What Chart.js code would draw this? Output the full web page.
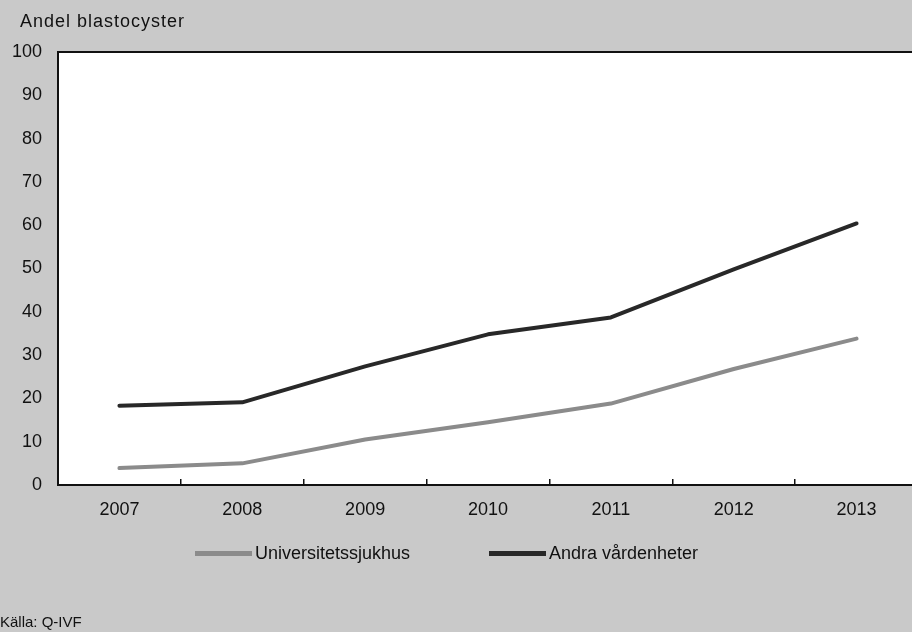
<!DOCTYPE html>
<html lang="sv">
<head>
<meta charset="utf-8">
<title>Andel blastocyster</title>
<script src="https://cdn.jsdelivr.net/npm/chart.js@4/dist/chart.umd.min.js"></script>
<style>
  html, body { margin: 0; padding: 0; background: #c9c9c9; overflow: hidden; }
  body { width: 912px; height: 632px; position: relative; font-family: "Liberation Sans", Arial, sans-serif; color: #111; }
  #wrap { position: absolute; left: 0; top: 0; width: 930px; height: 632px; }
  .txt { position: absolute; font-size: 18px; line-height: 21px; white-space: nowrap; }
  #ytitle { left: 20px; top: 11px; letter-spacing: 1px; }
  #source { left: 0px; top: 613px; font-size: 15px; line-height: 18px; }
  #legend { position: absolute; top: 543px; left: 0; width: 930px; height: 21px; }
  .item { position: absolute; top: 0; display: flex; align-items: center; font-size: 18px; line-height: 21px; white-space: nowrap; }
  .swatch { display: inline-block; width: 57px; height: 5px; margin-right: 3px; }
</style>
</head>
<body>
<div id="wrap"><canvas id="chart" width="930" height="632"></canvas></div>
<div class="txt" id="ytitle">Andel blastocyster</div>
<div id="legend"></div>
<div class="txt" id="source">Källa: Q-IVF</div>
<script>
// Share of blastocyst transfers (%) by year and type of clinic
const years = ['2007', '2008', '2009', '2010', '2011', '2012', '2013'];
const universitetssjukhus = [3.9, 5.0, 10.5, 14.5, 18.8, 26.8, 33.8];
const andraVardenheter = [18.3, 19.1, 27.4, 34.8, 38.7, 49.8, 60.4];
const yTicks = [0, 10, 20, 30, 40, 50, 60, 70, 80, 90, 100];

const seriesNames = ['Universitetssjukhus', 'Andra vårdenheter'];
const seriesColors = ['#8b8b8b', '#282828'];
const legendLeft = [195, 489];

// White plot area with a black frame
const plotFrame = {
  id: 'plotFrame',
  beforeDraw(chart) {
    const { ctx, chartArea: a } = chart;
    ctx.save();
    ctx.fillStyle = '#ffffff';
    ctx.fillRect(a.left, a.top, a.right - a.left, a.bottom - a.top);
    ctx.restore();
  },
  afterDraw(chart) {
    const { ctx, chartArea: a } = chart;
    ctx.save();
    ctx.strokeStyle = '#111111';
    ctx.lineWidth = 2;
    ctx.strokeRect(a.left, a.top, a.right - a.left, a.bottom - a.top);
    ctx.restore();
  }
};

const font = { family: '"Liberation Sans", Arial, sans-serif', size: 18 };

const lineStyle = {
  borderWidth: 4,
  pointRadius: 0,
  tension: 0,
  borderCapStyle: 'round',
  borderJoinStyle: 'round'
};

const chart = new Chart(document.getElementById('chart'), {
  type: 'line',
  data: {
    labels: years,
    datasets: [
      Object.assign({
        label: seriesNames[0],
        data: universitetssjukhus,
        borderColor: seriesColors[0],
        backgroundColor: seriesColors[0]
      }, lineStyle),
      Object.assign({
        label: seriesNames[1],
        data: andraVardenheter,
        borderColor: seriesColors[1],
        backgroundColor: seriesColors[1]
      }, lineStyle)
    ]
  },
  options: {
    responsive: false,
    animation: false,
    events: [],
    layout: { padding: { top: 52, left: 0, right: 12, bottom: 107 } },
    plugins: { legend: { display: false }, tooltip: { enabled: false } },
    scales: {
      x: {
        offset: true,
        afterFit(scale) { scale.height = 40; },
        grid: {
          offset: true,
          drawOnChartArea: false,
          drawTicks: true,
          tickLength: -6,
          color: '#111111',
          lineWidth: 1.5
        },
        border: { display: false },
        ticks: { color: '#111111', font, padding: 20, maxRotation: 0 }
      },
      y: {
        min: 0,
        max: 100,
        afterFit(scale) { scale.width = 58; },
        afterBuildTicks(scale) { scale.ticks = yTicks.map(v => ({ value: v })); },
        grid: { display: false, drawTicks: false },
        border: { display: false },
        ticks: { color: '#111111', font, padding: 16 }
      }
    }
  },
  plugins: [plotFrame]
});

// Legend entries built from the dataset definitions
const legend = document.getElementById('legend');
chart.data.datasets.forEach((ds, i) => {
  const item = document.createElement('div');
  item.className = 'item';
  item.style.left = legendLeft[i] + 'px';
  const sw = document.createElement('span');
  sw.className = 'swatch';
  sw.style.background = ds.borderColor;
  const label = document.createElement('span');
  label.textContent = ds.label;
  item.appendChild(sw);
  item.appendChild(label);
  legend.appendChild(item);
});
</script>
</body>
</html>
